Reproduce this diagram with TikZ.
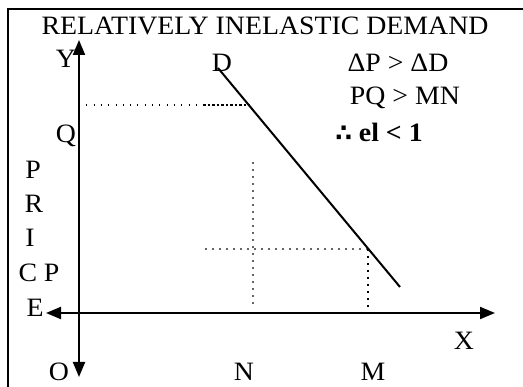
\documentclass[tikz,border=0pt]{standalone}
\usepackage{fontspec}
\setmainfont[FakeStretch=1.05]{Liberation Serif}
\newfontfamily\therefont{DejaVu Sans}
\usetikzlibrary{arrows.meta}
\begin{document}
\begin{tikzpicture}[x=1pt,y=-1pt,
  lbl/.style={anchor=base,inner sep=0pt,font=\fontsize{26.5}{30}\selectfont},
  axisline/.style={line width=2pt,{Triangle[width=12pt,length=15pt]}-{Triangle[width=12pt,length=15pt]}},
  demand/.style={line width=2pt},
  frameline/.style={line width=2pt},
  topguide/.style={line width=1.3pt,dash pattern=on 1pt off 6.3pt},
  topdense/.style={line width=1.6pt,dash pattern=on 2.5pt off 2pt},
  guide/.style={line width=1.3pt,gray!80!black,dash pattern=on 2pt off 5pt},
  guidedark/.style={line width=1.3pt,black,dash pattern=on 2pt off 5pt}]
\useasboundingbox (0,0) rectangle (523,387);
\begin{scope}
  \clip (0,0) rectangle (523,387);
  \draw[frameline] (8,9) rectangle (560,420);
\end{scope}
% coordinates
\coordinate (ytop) at (79,40);
\coordinate (ybot) at (79,377);
\coordinate (xleft) at (46,313);
\coordinate (xright) at (495,313);
\coordinate (dstart) at (218,68);
\coordinate (dend) at (400,287);
\coordinate (q) at (79,105);
\coordinate (qd) at (203,105);
\coordinate (qa) at (250,105);
\coordinate (p1) at (205,249);
\coordinate (pa) at (368,249);
\coordinate (ntop) at (253,162);
\coordinate (nbot) at (253,307);
\coordinate (mbot) at (368,311);
% guides
\draw[topguide] (q) -- (qd);
\draw[topdense] (qd) -- (qa);
\draw[guide] (p1) -- (pa);
\draw[guide] (ntop) -- (nbot);
\draw[guidedark] (pa) -- (mbot);
% axes
\draw[axisline] (xleft) -- (xright);
\draw[axisline] (ytop) -- (ybot);
% demand line
\draw[demand] (dstart) -- (dend);
% labels
\node[lbl] (title) at (265,35) {RELATIVELY INELASTIC DEMAND};
\node[lbl] (Y) at (66,68) {Y};
\node[lbl] (D) at (222,72) {D};
\node[lbl] (r1) at (398,72) {ΔP > ΔD};
\node[lbl] (r2) at (405,105) {PQ > MN};
\node[lbl] (r3) at (379,142) {{\therefont\bfseries\fontsize{24}{26}\selectfont ∴} \bfseries el < 1};
\node[lbl] (Q) at (66,143) {Q};
\node[lbl] (P) at (33,179) {P};
\node[lbl] (R) at (34,213) {R};
\node[lbl] (I) at (30,247) {I};
\node[lbl] (CP) at (39,282) {C P};
\node[lbl] (E) at (35,317) {E};
\node[lbl] (X) at (464,350) {X};
\node[lbl] (O) at (59,381) {O};
\node[lbl] (N) at (244,381) {N};
\node[lbl] (M) at (373,381) {M};
\end{tikzpicture}
\end{document}
